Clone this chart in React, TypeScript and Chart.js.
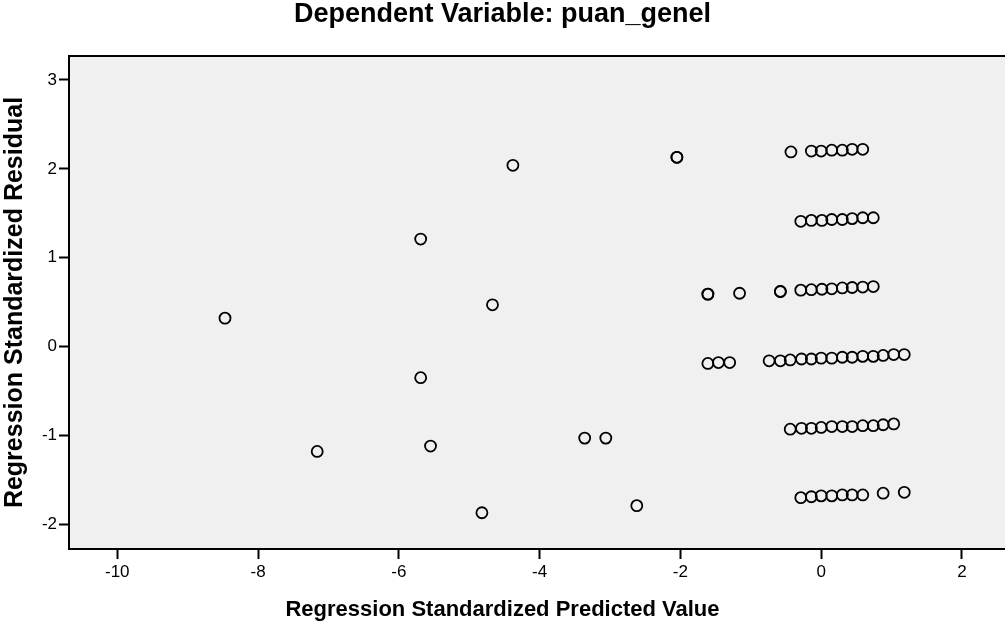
import React, { useEffect, useRef } from "react";
import { Chart, registerables } from "chart.js";

Chart.register(...registerables);

const FONT = "'Liberation Sans', Arial, Helvetica, sans-serif";

const titleText = "Dependent Variable: puan_genel";
const xAxisTitle = "Regression Standardized Predicted Value";
const yAxisTitle = "Regression Standardized Residual";

const xTickValues = [-10, -8, -6, -4, -2, 0, 2];
const yTickValues = [-2, -1, 0, 1, 2, 3];

// isolated cases (some duplicated where the marker looks heavier)
const scatterPredicted = [-8.47, -7.16, -5.69, -5.69, -5.55, -4.67, -4.38, -4.82, -3.36, -3.06, -2.62, -2.05, -2.05, -1.61, -1.61, -1.16, -1.61, -1.46, -1.3];
const scatterResidual = [0.32, -1.18, 1.21, -0.35, -1.12, 0.47, 2.04, -1.87, -1.03, -1.03, -1.79, 2.13, 2.13, 0.59, 0.59, 0.6, -0.19, -0.18, -0.18];

// band near residual 2.2
const band1Predicted = [-0.43, -0.14, 0.0, 0.15, 0.3, 0.44, 0.59];
const band1Residual = [2.19, 2.2, 2.2, 2.21, 2.21, 2.22, 2.22];

// band near residual 1.43
const band2Predicted = [-0.29, -0.14, 0.01, 0.15, 0.3, 0.44, 0.59, 0.74];
const band2Residual = [1.41, 1.42, 1.42, 1.43, 1.43, 1.44, 1.45, 1.45];

// band near residual 0.65
const band3Predicted = [-0.58, -0.58, -0.29, -0.14, 0.01, 0.15, 0.3, 0.44, 0.59, 0.74];
const band3Residual = [0.62, 0.62, 0.635, 0.64, 0.645, 0.65, 0.66, 0.665, 0.67, 0.675];

// band near residual -0.12
const band4Predicted = [-0.74, -0.58, -0.44, -0.28, -0.14, 0.0, 0.15, 0.3, 0.44, 0.59, 0.74, 0.88, 1.03, 1.18];
const band4Residual = [-0.16, -0.16, -0.15, -0.14, -0.14, -0.13, -0.13, -0.12, -0.12, -0.11, -0.11, -0.1, -0.09, -0.09];

// band near residual -0.9
const band5Predicted = [-0.44, -0.28, -0.14, 0.0, 0.15, 0.3, 0.44, 0.59, 0.74, 0.88, 1.03];
const band5Residual = [-0.93, -0.92, -0.92, -0.91, -0.9, -0.9, -0.9, -0.89, -0.89, -0.88, -0.87];

// band near residual -1.67
const band6Predicted = [-0.29, -0.14, 0.0, 0.15, 0.3, 0.44, 0.59, 0.88, 1.18];
const band6Residual = [-1.7, -1.69, -1.68, -1.68, -1.67, -1.67, -1.67, -1.65, -1.64];

const xGroups = [scatterPredicted, band1Predicted, band2Predicted, band3Predicted, band4Predicted, band5Predicted, band6Predicted];
const yGroups = [scatterResidual, band1Residual, band2Residual, band3Residual, band4Residual, band5Residual, band6Residual];

const X_MIN = -10.686;
const X_MAX = 2.611;
const Y_MIN = -2.278;
const Y_MAX = 3.27;

const framePlugin = {
  id: "spssFrame",
  beforeDraw(chart: any) {
    const { ctx, chartArea } = chart;
    ctx.save();
    ctx.fillStyle = "#f0f0f0";
    ctx.fillRect(chartArea.left, chartArea.top, chartArea.right - chartArea.left, chartArea.bottom - chartArea.top);
    ctx.restore();
  },
  afterDraw(chart: any) {
    const { ctx, chartArea } = chart;
    ctx.save();
    ctx.strokeStyle = "#000";
    ctx.lineWidth = 2;
    ctx.beginPath();
    ctx.moveTo(chartArea.right + 2, chartArea.top);
    ctx.lineTo(chartArea.left, chartArea.top);
    ctx.lineTo(chartArea.left, chartArea.bottom);
    ctx.lineTo(chartArea.right + 2, chartArea.bottom);
    ctx.stroke();
    ctx.restore();
  },
};

export default function App() {
  const canvasRef = useRef<HTMLCanvasElement | null>(null);

  useEffect(() => {
    if (!canvasRef.current) return;
    const points: { x: number; y: number }[] = [];
    xGroups.forEach((xs, g) => {
      xs.forEach((x, i) => points.push({ x, y: yGroups[g][i] }));
    });

    const chart = new Chart(canvasRef.current, {
      type: "scatter",
      data: {
        datasets: [
          {
            data: points,
            pointRadius: 5.5,
            pointBorderWidth: 1.8,
            pointBorderColor: "#000",
            pointBackgroundColor: "rgba(0,0,0,0)",
            showLine: false,
          },
        ],
      },
      options: {
        animation: false,
        responsive: false,
        maintainAspectRatio: false,
        devicePixelRatio: 1,
        layout: { padding: 0, autoPadding: false },
        plugins: {
          legend: { display: false },
          tooltip: { enabled: false },
          title: {
            display: true,
            text: titleText,
            color: "#000",
            font: { family: FONT, size: 27, weight: "bold", lineHeight: 1.05 },
            padding: { top: 0, bottom: 27.65 },
          },
          subtitle: {
            display: true,
            position: "bottom",
            text: xAxisTitle,
            color: "#000",
            font: { family: FONT, size: 22, weight: "bold", lineHeight: 1.2 },
            padding: { top: 2.8, bottom: 10.8 },
          },
        },
        scales: {
          x: {
            type: "linear",
            min: X_MIN,
            max: X_MAX,
            afterBuildTicks: (s: any) => {
              s.ticks = xTickValues.map((v) => ({ value: v }));
            },
            afterFit: (s: any) => {
              s.height = 45;
              s.paddingLeft = 0;
              s.paddingRight = 0;
            },
            ticks: {
              color: "#000",
              font: { family: FONT, size: 17 },
              padding: 3,
              maxRotation: 0,
            },
            grid: {
              drawOnChartArea: false,
              drawTicks: true,
              tickLength: 10,
              tickWidth: 2,
              tickColor: "#000",
            },
            border: { display: false },
          },
          y: {
            type: "linear",
            min: Y_MIN,
            max: Y_MAX,
            afterBuildTicks: (s: any) => {
              s.ticks = yTickValues.map((v) => ({ value: v }));
            },
            afterFit: (s: any) => {
              s.width = 69;
              s.paddingTop = 0;
              s.paddingBottom = 0;
            },
            ticks: {
              color: "#000",
              font: { family: FONT, size: 17 },
              padding: 2,
            },
            grid: {
              drawOnChartArea: false,
              drawTicks: true,
              tickLength: 10,
              tickWidth: 2,
              tickColor: "#000",
            },
            border: { display: false },
            title: {
              display: true,
              text: yAxisTitle,
              color: "#000",
              font: { family: FONT, size: 25, weight: "bold" },
              padding: { top: 0, bottom: 0 },
            },
          },
        },
      },
      plugins: [framePlugin],
    } as any);

    return () => chart.destroy();
  }, []);

  return (
    <div style={{ position: "fixed", left: 0, top: 0, width: 1005, height: 634, background: "#fff" }}>
      <canvas ref={canvasRef} width={1005} height={634} style={{ display: "block" }} />
    </div>
  );
}
